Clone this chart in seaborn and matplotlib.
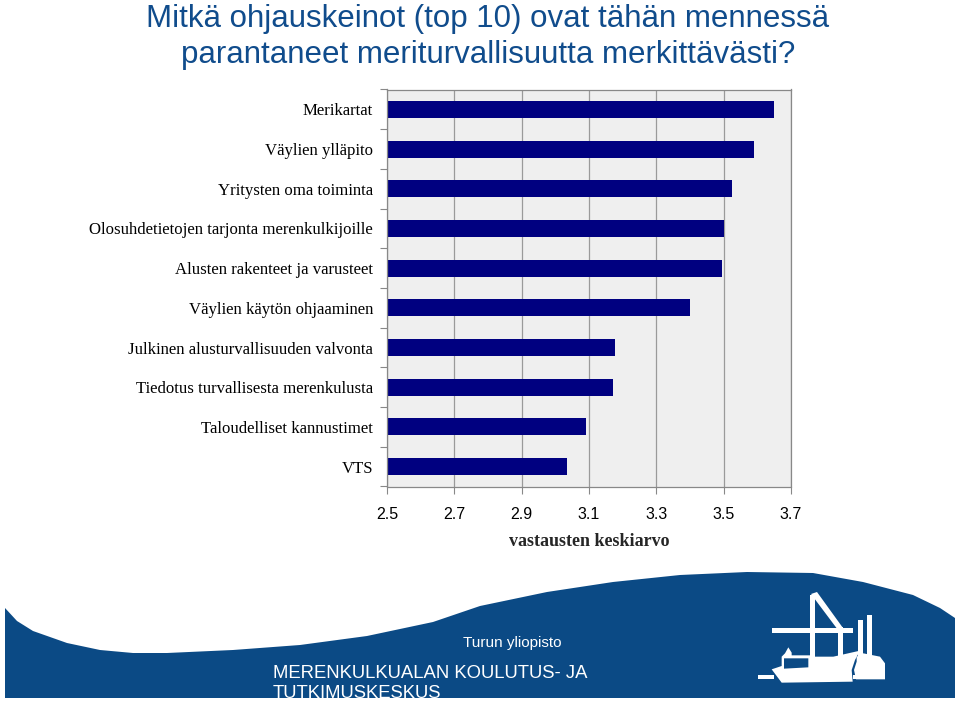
import numpy as np
import pandas as pd
import matplotlib
matplotlib.use("Agg")
import matplotlib.pyplot as plt
from matplotlib.patches import Polygon, Rectangle
import seaborn as sns

# ---- data ----
categories = [
    "Merikartat",
    "Väylien ylläpito",
    "Yritysten oma toiminta",
    "Olosuhdetietojen tarjonta merenkulkijoille",
    "Alusten rakenteet ja varusteet",
    "Väylien käytön ohjaaminen",
    "Julkinen alusturvallisuuden valvonta",
    "Tiedotus turvallisesta merenkulusta",
    "Taloudelliset kannustimet",
    "VTS",
]
values = [3.65, 3.59, 3.525, 3.50, 3.495, 3.40, 3.176, 3.17, 3.09, 3.035]
xticks = [2.5, 2.7, 2.9, 3.1, 3.3, 3.5, 3.7]
xtick_labels = ["2.5", "2.7", "2.9", "3.1", "3.3", "3.5", "3.7"]
title_lines = ["Mitkä ohjauskeinot (top 10) ovat tähän mennessä",
               "parantaneet meriturvallisuutta merkittävästi?"]
xlabel = "vastausten keskiarvo"
banner_small = "Turun yliopisto"
banner_big = ["MERENKULKUALAN KOULUTUS- JA", "TUTKIMUSKESKUS"]

df = pd.DataFrame({"cat": categories, "val": values})

sns.set_theme(style="white")
plt.rcParams["font.family"] = ["Liberation Sans", "DejaVu Sans"]

W, H = 960, 701
fig = plt.figure(figsize=(W / 100, H / 100), dpi=100)
fig.patch.set_facecolor("white")

# background / decoration axes in pixel coordinates
bg = fig.add_axes([0, 0, 1, 1], zorder=0)
bg.set_xlim(0, W)
bg.set_ylim(H, 0)
bg.axis("off")
bg.patch.set_alpha(0)

# main chart axes
left, right, top, bottom = 387, 791, 89.5, 486.5
ax = fig.add_axes([left / W, 1 - bottom / H, (right - left) / W, (bottom - top) / H], zorder=2)
ax.set_facecolor("#EFEFEF")

sns.barplot(data=df, x="val", y="cat", orient="h", color="#000080",
            saturation=1, width=0.43, ax=ax, edgecolor="none")

ax.set_xlim(2.5, 3.7)
ax.set_xticks(xticks)
ax.set_xticklabels(xtick_labels, fontsize=11.5, family="Liberation Sans", color="black")
ax.set_ylim(len(categories) - 0.5, -0.5)
ax.set_yticks(range(len(categories)))
ax.set_yticklabels(categories, fontsize=12.1, family="Liberation Serif", color="black")
ax.set_yticks(np.arange(-0.5, len(categories), 1), minor=True)
ax.tick_params(axis="y", which="major", length=0, pad=10)
ax.tick_params(axis="y", which="minor", length=5, width=0.8, color="#888888", direction="out", left=True)
ax.tick_params(axis="x", which="major", length=5, width=0.8, color="#888888", direction="out",
               bottom=True, pad=10)
ax.set_xlabel(xlabel, fontsize=13, family="Liberation Serif", fontweight="bold", labelpad=8)
ax.set_ylabel("")
ax.xaxis.grid(True, color="#9A9A9A", linewidth=0.9)
ax.yaxis.grid(False)
ax.set_axisbelow(True)
for s in ax.spines.values():
    s.set_visible(True)
    s.set_color("#888888")
    s.set_linewidth(0.9)

# title
title_color = "#104C8C"
bg.text(488, 26.5, title_lines[0], ha="center", va="baseline",
        fontsize=22.5, color=title_color, family="Liberation Sans")
bg.text(488, 62.5, title_lines[1], ha="center", va="baseline",
        fontsize=22.5, color=title_color, family="Liberation Sans")

# bottom banner wave
banner_color = "#0B4A85"
wave = [(5, 608), (17, 621), (33, 631), (67, 643), (100, 650), (133, 653), (167, 653),
        (233, 650), (300, 645), (367, 636), (433, 622), (480, 606), (547, 592),
        (613, 582), (680, 575), (747, 572), (813, 573), (863, 582), (913, 595),
        (940, 608), (955, 618), (955, 698), (5, 698)]
bg.add_patch(Polygon(wave, closed=True, facecolor=banner_color, edgecolor="none"))

# banner texts
bg.text(463, 643, banner_small, color="white", fontsize=11, va="center", ha="left",
        family="Liberation Sans")
bg.text(273, 673, banner_big[0], color="white", fontsize=13.3, va="center", ha="left",
        family="Liberation Sans")
bg.text(273, 698.5, banner_big[1], color="white", fontsize=13.3, va="baseline", ha="left",
        family="Liberation Sans")
# white strip below banner
bg.add_patch(Rectangle((0, 698), W, H - 698, facecolor="white", edgecolor="none", zorder=5))

# logo (decorative)
def z(pts):
    return [(480 + x / 3, 560 + y / 3) for x, y in pts]

wcol = "white"
ship = z([(875, 328), (905, 318), (905, 290), (915, 280), (925, 262), (935, 278), (935, 286),
          (990, 286), (990, 290), (1060, 290), (1140, 272), (1125, 300), (1115, 330),
          (1118, 365), (905, 368)])
bg.add_patch(Polygon(ship, closed=True, facecolor=wcol, edgecolor="none", zorder=3))
building = z([(1130, 290), (1150, 280), (1180, 286), (1200, 290), (1215, 310), (1215, 358),
              (1128, 358), (1122, 330), (1130, 305)])
bg.add_patch(Polygon(building, closed=True, facecolor=wcol, edgecolor="none", zorder=3))
windows = z([(912, 295), (985, 295), (985, 322), (912, 326)])
bg.add_patch(Polygon(windows, closed=True, facecolor=banner_color, edgecolor="none", zorder=4))
bg.add_patch(Rectangle((772, 628), 81, 4.5, facecolor=wcol, edgecolor="none", zorder=3))
bg.add_patch(Rectangle((810, 595), 4.5, 65, facecolor=wcol, edgecolor="none", zorder=3))
bg.add_patch(Polygon([(811, 594), (817, 592), (843, 628), (838, 630)], closed=True,
                     facecolor=wcol, edgecolor="none", zorder=3))
bg.add_patch(Rectangle((838, 627), 5, 30, facecolor=wcol, edgecolor="none", zorder=3))
bg.add_patch(Rectangle((858, 620), 4.5, 40, facecolor=wcol, edgecolor="none", zorder=3))
bg.add_patch(Rectangle((867, 615), 4.5, 45, facecolor=wcol, edgecolor="none", zorder=3))
bg.add_patch(Rectangle((758, 675), 16, 4, facecolor=wcol, edgecolor="none", zorder=3))
bg.add_patch(Rectangle((853, 675), 32, 4, facecolor=wcol, edgecolor="none", zorder=3))

fig.savefig("out.png", dpi=100, facecolor="white")
